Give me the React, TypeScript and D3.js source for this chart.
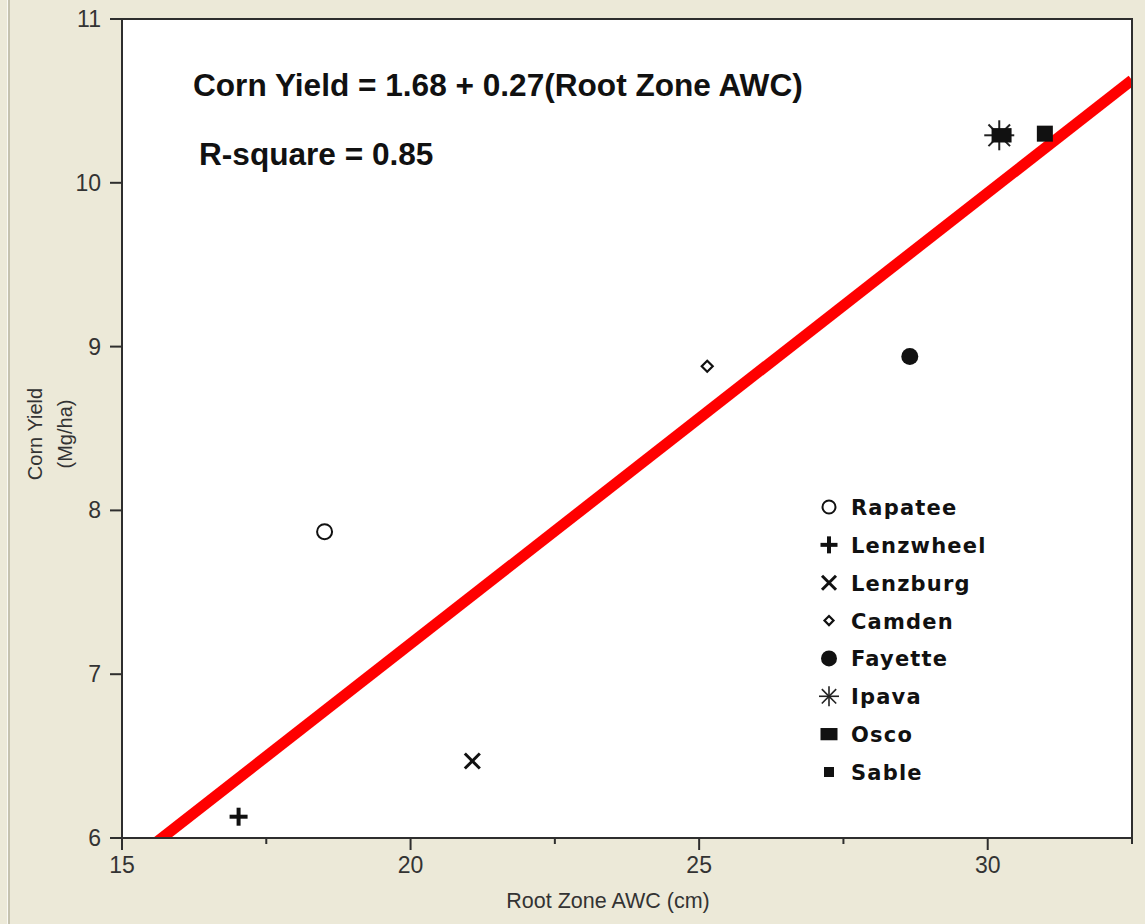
import React from 'react';
import * as d3 from 'd3';

// soil series
const soils = ['Rapatee', 'Lenzwheel', 'Lenzburg', 'Camden', 'Fayette', 'Ipava', 'Osco', 'Sable'];
const rootZoneAwc = [18.51, 17.02, 21.07, 25.14, 28.65, 30.2, 30.24, 30.99];
const cornYield = [7.87, 6.13, 6.47, 8.88, 8.94, 10.29, 10.29, 10.3];
const symbols = ['circleOpen', 'plus', 'cross', 'diamondOpen', 'circleFilled', 'asterisk', 'rectWide', 'square'];

// regression line (the equation shown is rounded)
const fitIntercept = 1.68;
const fitSlope = 0.2753;

const xMajorTicks = [15, 20, 25, 30];
const xMinorTicks = [17.5, 22.5, 27.5, 32.5];
const yTicks = [6, 7, 8, 9, 10, 11];

const W = 1145;
const H = 924;
const plot = { left: 122, top: 19, right: 1132, bottom: 838 };
const axisColor = '#2e2e2e';
const sans = 'Arial, "Liberation Sans", Helvetica, sans-serif';

// marker sizes: plot vs legend
const plotSize: Record<string, number> = {
  circleOpen: 17, plus: 18, cross: 15, diamondOpen: 13, circleFilled: 17, asterisk: 30, rectWide: 20, square: 16,
};
const legendSize: Record<string, number> = {
  circleOpen: 15, plus: 17, cross: 14, diamondOpen: 11, circleFilled: 16, asterisk: 20, rectWide: 17, square: 10,
};

function Marker({ kind, x, y, s }: { kind: string; x: number; y: number; s: number }) {
  const h = s / 2;
  switch (kind) {
    case 'circleOpen':
      return <circle cx={x} cy={y} r={h - 1} fill="white" stroke="#111" strokeWidth={2} />;
    case 'plus':
      return (
        <g stroke="#111" strokeWidth={4}>
          <line x1={x - h} x2={x + h} y1={y} y2={y} />
          <line x1={x} x2={x} y1={y - h} y2={y + h} />
        </g>
      );
    case 'cross':
      return (
        <g stroke="#111" strokeWidth={3}>
          <line x1={x - h} x2={x + h} y1={y - h} y2={y + h} />
          <line x1={x - h} x2={x + h} y1={y + h} y2={y - h} />
        </g>
      );
    case 'diamondOpen':
      return (
        <path
          d={`M${x},${y - h + 1}L${x + h - 1},${y}L${x},${y + h - 1}L${x - h + 1},${y}Z`}
          fill="white"
          stroke="#111"
          strokeWidth={2.2}
        />
      );
    case 'circleFilled':
      return <circle cx={x} cy={y} r={h} fill="#111" />;
    case 'asterisk': {
      const d = h * 0.72;
      return (
        <g stroke="#222" strokeWidth={s > 24 ? 2 : 1.6}>
          <line x1={x - h} x2={x + h} y1={y} y2={y} />
          <line x1={x} x2={x} y1={y - h} y2={y + h} />
          <line x1={x - d} x2={x + d} y1={y - d} y2={y + d} />
          <line x1={x - d} x2={x + d} y1={y + d} y2={y - d} />
        </g>
      );
    }
    case 'rectWide':
      return <rect x={x - h} y={y - s * 0.36} width={s} height={s * 0.72} fill="#111" />;
    case 'square':
      return <rect x={x - h} y={y - h} width={s} height={s} fill="#111" />;
    default:
      return null;
  }
}

export default function App() {
  const x = d3.scaleLinear().domain([15, 32.5]).range([plot.left, plot.right]);
  const y = d3.scaleLinear().domain([6, 11]).range([plot.bottom, plot.top]);

  const fitLine = d3
    .line<number>()
    .x((v) => x(v))
    .y((v) => y(fitIntercept + fitSlope * v));

  const legendY = d3.scalePoint<string>().domain(soils).range([507, 772]);

  return (
    <svg
      width={W}
      height={H}
      style={{ position: 'absolute', left: 0, top: 0, display: 'block' }}
      fontFamily={sans}
    >
      <defs>
        <clipPath id="plotClip">
          <rect x={plot.left} y={plot.top} width={plot.right - plot.left} height={plot.bottom - plot.top} />
        </clipPath>
      </defs>
      <rect width={W} height={H} fill="#ECE9D8" />
      <line x1={7.5} x2={7.5} y1={0} y2={H} stroke="#fbfaf5" strokeWidth={1} />
      <line x1={9} x2={9} y1={0} y2={H} stroke="#b8b4a2" strokeWidth={1.5} />

      <rect
        x={plot.left}
        y={plot.top}
        width={plot.right - plot.left}
        height={plot.bottom - plot.top}
        fill="white"
      />

      {/* regression line */}
      <path
        d={fitLine([15, 32.5]) || ''}
        stroke="#ff0000"
        strokeWidth={11}
        fill="none"
        clipPath="url(#plotClip)"
      />

      {/* frame */}
      <rect
        x={plot.left}
        y={plot.top}
        width={plot.right - plot.left}
        height={plot.bottom - plot.top}
        fill="none"
        stroke={axisColor}
        strokeWidth={2}
      />

      {/* x axis ticks */}
      {xMajorTicks.map((t) => (
        <g key={`xm${t}`}>
          <line x1={x(t)} x2={x(t)} y1={plot.bottom} y2={plot.bottom + 12} stroke={axisColor} strokeWidth={2} />
          <text x={x(t)} y={873} textAnchor="middle" fontSize={23} fill="#333">
            {t}
          </text>
        </g>
      ))}
      {xMinorTicks.map((t) => (
        <line
          key={`xn${t}`}
          x1={x(t)}
          x2={x(t)}
          y1={plot.bottom}
          y2={plot.bottom + 6}
          stroke={axisColor}
          strokeWidth={2}
        />
      ))}

      {/* y axis ticks */}
      {yTicks.map((t) => (
        <g key={`y${t}`}>
          <line x1={plot.left - 12} x2={plot.left} y1={y(t)} y2={y(t)} stroke={axisColor} strokeWidth={2} />
          <text x={101} y={y(t) + 8} textAnchor="end" fontSize={23} fill="#333">
            {t}
          </text>
        </g>
      ))}

      {/* axis titles */}
      <text x={608} y={908} textAnchor="middle" fontSize={21.5} fill="#333">
        Root Zone AWC (cm)
      </text>
      <g transform="translate(42,434) rotate(-90)">
        <text x={0} y={0} textAnchor="middle" fontSize={20} fill="#333">
          Corn Yield
        </text>
        <text x={0} y={30} textAnchor="middle" fontSize={20} fill="#333">
          (Mg/ha)
        </text>
      </g>

      {/* equation */}
      <text x={193} y={96} fontSize={31.6} fontWeight="bold" fill="#111">
        Corn Yield = 1.68 + 0.27(Root Zone AWC)
      </text>
      <text x={199} y={165} fontSize={31.6} fontWeight="bold" fill="#111">
        R-square = 0.85
      </text>

      {/* points */}
      {soils.map((name, i) => (
        <Marker
          key={name}
          kind={symbols[i]}
          x={x(rootZoneAwc[i])}
          y={y(cornYield[i])}
          s={plotSize[symbols[i]]}
        />
      ))}

      {/* legend */}
      {soils.map((name, i) => {
        const cy = legendY(name) as number;
        return (
          <g key={`lg${name}`}>
            <Marker kind={symbols[i]} x={829} y={cy} s={legendSize[symbols[i]]} />
            <text
              x={851}
              y={cy + 8}
              fontFamily='"DejaVu Sans", Verdana, sans-serif'
              fontWeight="bold"
              fontSize={21}
              letterSpacing={1.2}
              fill="#111"
            >
              {name}
            </text>
          </g>
        );
      })}
    </svg>
  );
}
